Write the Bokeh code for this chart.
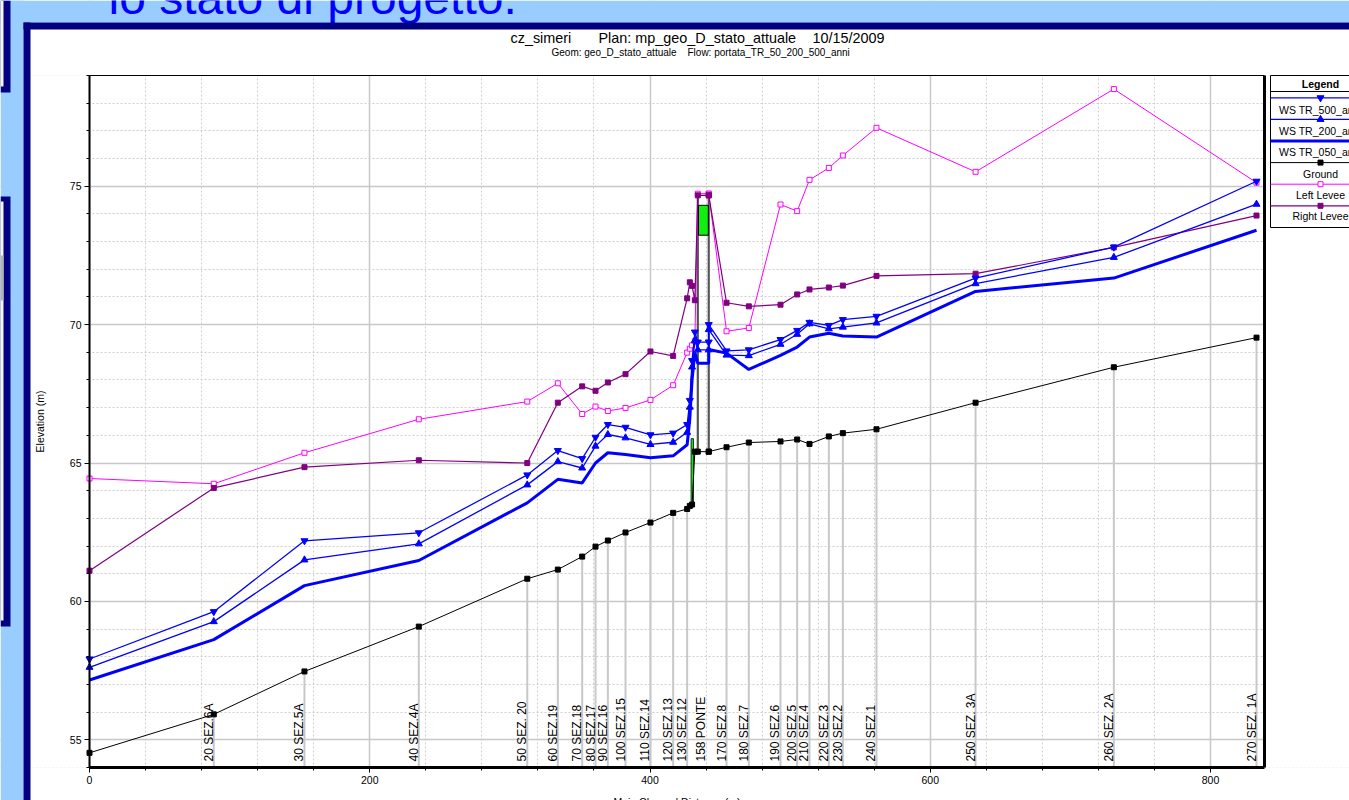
import numpy as np
from bokeh.plotting import figure
from bokeh.models import (Range1d, LinearAxis, SingleIntervalTicker, FixedTicker, Grid)
from bokeh.core.properties import value
from bokeh.embed import file_html
from bokeh.resources import INLINE

# ---------------- data ----------------
stations = ["10", "20 SEZ.6A", "30 SEZ.5A", "40 SEZ.4A", "50 SEZ. 20", "60 SEZ.19",
            "70 SEZ.18", "80 SEZ.17", "90 SEZ.16", "100 SEZ.15", "110 SEZ.14",
            "120 SEZ.13", "130 SEZ.12", "140", "145", "150", "158 BD", "158 BU",
            "158 BU", "170 SEZ.8", "180 SEZ.7", "190 SEZ.6", "200 SEZ.5",
            "210 SEZ.4", "220 SEZ.3", "230 SEZ.2", "240 SEZ.1", "250 SEZ. 3A",
            "260 SEZ. 2A", "270 SEZ. 1A"]
dist = [0.0, 88.7, 153.4, 235.0, 312.4, 334.2, 351.6, 361.1, 369.9, 382.5, 400.3,
        416.5, 426.5, 428.4, 430.0, 432.0, 434.1, 441.9, 441.9, 454.6, 470.5,
        493.1, 505.0, 513.8, 527.6, 537.6, 561.6, 632.3, 731.0, 832.8]
ground = [54.53, 55.92, 57.47, 59.09, 60.82, 61.15, 61.62, 61.98, 62.20, 62.49, 62.85,
          63.20, 63.34, 63.45, 63.50, 65.41, 65.41, 65.41, 65.41, 65.57, 65.74,
          65.78, 65.85, 65.69, 65.96, 66.08, 66.22, 67.18, 68.46, 69.53]
left_levee = [64.44, 64.25, 65.37, 66.58, 67.22, 67.88, 66.77, 67.04, 66.88, 66.99, 67.28,
              67.81, 68.99, 69.13, 69.25, 69.40, 74.73, 74.73, 74.73, 69.76, 69.88,
              74.34, 74.10, 75.23, 75.66, 76.11, 77.11, 75.52, 78.51, 75.13]
right_levee = [61.11, 64.10, 64.85, 65.10, 65.00, 67.18, 67.77, 67.61, 67.91, 68.21, 69.03,
               68.87, 70.95, 71.53, 71.40, 70.88, 74.67, 74.67, 74.67, 70.79, 70.66,
               70.72, 71.09, 71.27, 71.34, 71.41, 71.76, 71.84, 72.79, 73.94]
ws_500 = [57.92, 59.63, 62.19, 62.48, 64.57, 65.45, 65.16, 65.93, 66.39, 66.29, 66.02,
          66.08, 66.39, 67.26, 68.70, 69.73, 69.37, 69.37, 70.00, 69.05, 69.09,
          69.46, 69.79, 70.08, 69.97, 70.18, 70.30, 71.68, 72.80, 75.18]
ws_200 = [57.62, 59.27, 61.50, 62.08, 64.21, 65.05, 64.82, 65.61, 66.03, 65.91, 65.67,
          65.75, 66.11, 67.02, 68.47, 69.43, 69.09, 69.09, 69.82, 68.90, 68.88,
          69.29, 69.65, 70.03, 69.85, 69.91, 70.06, 71.48, 72.43, 74.35]
ws_050 = [57.16, 58.62, 60.57, 61.48, 63.56, 64.41, 64.28, 65.00, 65.37, 65.31, 65.19,
          65.26, 65.66, 66.60, 68.00, 69.00, 68.60, 68.60, 69.10, 68.97, 68.38,
          68.89, 69.19, 69.55, 69.69, 69.59, 69.55, 71.20, 71.68, 73.41]

section_labels = ["20 SEZ.6A", "30 SEZ.5A", "40 SEZ.4A", "50 SEZ. 20", "60 SEZ.19",
                  "70 SEZ.18", "80 SEZ.17", "90 SEZ.16", "100 SEZ.15", "110 SEZ.14",
                  "120 SEZ.13", "130 SEZ.12", "158 PONTE", "170 SEZ.8", "180 SEZ.7",
                  "190 SEZ.6", "200 SEZ.5", "210 SEZ.4", "220 SEZ.3", "230 SEZ.2",
                  "240 SEZ.1", "250 SEZ. 3A", "260 SEZ. 2A", "270 SEZ. 1A"]
label_dist = [88.7, 153.4, 235.0, 312.4, 334.2, 351.6, 361.1, 369.9, 382.5, 400.3,
              416.5, 426.5, 439.8, 454.6, 470.5, 493.1, 505.0, 513.8, 527.6, 537.6,
              561.6, 632.3, 731.0, 832.8]

# bridge (158 PONTE)
deck_left, deck_right = [434.6], [441.6]
deck_low, deck_high = [73.23], [74.31]
face_dist = [434.1, 441.9]
face_top = [74.70, 74.70]
sill_left, sill_right = [429.3], [431.0]
sill_low, sill_high = [63.48], [65.88]

legend_names = ["WS TR_500_anni", "WS TR_200_anni", "WS TR_050_anni",
                "Ground", "Left Levee", "Right Levee"]

# ---------------- layout constants (page pixels) ----------------
W, H = 1349, 800
FL, FT, FR, FB = 89, 75, 1264, 767       # plot frame of the chart
X0, X1 = 0.0, 838.5
Y0, Y1 = 54.0, 79.0
FONT = "Liberation Sans"
LIGHT = "#99ccff"
NAVY = "#000080"
BLUE = "#0000ff"
PINK = "#ff00ff"
PURPLE = "#800080"

kx = (FR - FL) / (X1 - X0)
ky = (FB - FT) / (Y1 - Y0)

p = figure(width=W, height=H, output_backend="svg", toolbar_location=None, title=None,
           x_range=Range1d(0, W), y_range=Range1d(H, 0),
           x_axis_type=None, y_axis_type=None,
           min_border=0, min_border_left=0, min_border_right=0,
           min_border_top=0, min_border_bottom=0)
p.extra_x_ranges = {"dist": Range1d(X0 - FL / kx, X0 + (W - FL) / kx)}
p.extra_y_ranges = {"elev": Range1d(Y0 - (H - FB) / ky, Y1 + FT / ky)}
p.border_fill_color = "white"
p.background_fill_color = "white"
p.outline_line_color = None

R = dict(x_range_name="dist", y_range_name="elev")

xticker = SingleIntervalTicker(interval=200, num_minor_ticks=5)
yticker = SingleIntervalTicker(interval=5, num_minor_ticks=5)

for dim, tk in ((0, xticker), (1, yticker)):
    p.add_layout(Grid(dimension=dim, ticker=tk, grid_line_color="#c8c8c8",
                      grid_line_width=1.5, minor_grid_line_color="#cfcfcf",
                      minor_grid_line_dash="2 2", minor_grid_line_width=1, **R))

# ---------------- slide / chart surroundings (page pixels) ----------------
# white bands around the plot area (hide grid outside it)
p.quad(left=[0, 0, 0, FR], right=[W, W, FL, W], top=[0, FB, FT, FT],
       bottom=[FT, H, FB, FB], fill_color="white", line_color=None)
# slide background and other slide boxes
p.quad(left=[0, 0], right=[W, 23], top=[0, 0], bottom=[22, H],
       fill_color=LIGHT, line_color=None)
p.quad(left=[0, 0], right=[10, 10], top=[0, 196], bottom=[92, 626],
       fill_color=NAVY, line_color=None)
p.quad(left=[0, 0], right=[3, 3], top=[0, 201], bottom=[86, 620],
       fill_color="#f4f4f4", line_color=None)
p.quad(left=[0], right=[3], top=[255], bottom=[300], fill_color="#b4b4b4", line_color=None)
p.text(x=[108], y=[-3], text=["lo stato di progetto."], text_font=value(FONT),
       text_font_size="48px", text_color=BLUE, text_align="left",
       text_baseline="middle")
p.quad(left=[23, 23], right=[W, 30], top=[22, 22], bottom=[29, H],
       fill_color=NAVY, line_color=None)

# chart titles
p.text(x=[510, 598, 812], y=[37, 37, 37],
       text=["cz_simeri", "Plan: mp_geo_D_stato_attuale", "10/15/2009"],
       text_font=value(FONT), text_font_size="14.4px", text_color="black",
       text_align="left", text_baseline="middle")
p.text(x=[551, 687], y=[52, 52],
       text=["Geom: geo_D_stato_attuale", "Flow: portata_TR_50_200_500_anni"],
       text_font=value(FONT), text_font_size="10px", text_color="black",
       text_align="left", text_baseline="middle")

# legend
LX0, LX1, LCX = 1270, 1365, 1320
line_y = [97.3, 118.9, 140.5, 162.1, 183.7, 205.3]
text_y = [109.3, 130.6, 151.9, 173.2, 194.5, 215.8]
line_col = [BLUE, BLUE, BLUE, "black", PINK, PURPLE]
line_w = [1.3, 1.3, 3, 1, 1, 1.2]
p.quad(left=[LX0], right=[LX1], top=[75], bottom=[227], fill_color="white",
       line_color="black", line_width=1)
p.segment(x0=[LX0], x1=[LX1], y0=[91], y1=[91], line_color="black", line_width=1)
p.text(x=[LCX], y=[83], text=["Legend"], text_font=value(FONT), text_font_size="10.5px",
       text_font_style="bold", text_align="center", text_baseline="middle",
       text_color="black")
p.segment(x0=[LX0] * 6, x1=[LX1] * 6, y0=line_y, y1=line_y, line_color=line_col,
          line_width=line_w)
p.text(x=[LCX] * 6, y=text_y, text=legend_names, text_font=value(FONT),
       text_font_size="10.5px", text_align="center", text_baseline="middle",
       text_color="black")
p.scatter(x=[LCX], y=[line_y[0]], marker="inverted_triangle", size=7,
          fill_color=BLUE, line_color=BLUE)
p.scatter(x=[LCX], y=[line_y[1]], marker="triangle", size=7,
          fill_color=BLUE, line_color=BLUE)
p.scatter(x=[LCX] * 3, y=line_y[3:], marker="square", size=5,
          fill_color=["black", "white", PURPLE], line_color=["black", PINK, PURPLE])

# ---------------- section lines, labels ----------------
draw_dist = [d for d, n in zip(label_dist, section_labels) if "PONTE" not in n]
draw_top = list(np.interp(draw_dist, dist, ground))
p.segment(x0=draw_dist, y0=[Y0] * len(draw_dist), x1=draw_dist, y1=draw_top,
          line_color="#c8c8c8", line_width=2, **R)
p.text(x=label_dist, y=[Y0] * len(label_dist), text=section_labels, angle=np.pi / 2,
       text_align="left", text_baseline="middle", text_font=value(FONT),
       text_font_size="12px", text_color="black", x_offset=-5, y_offset=-6, **R)

# ---------------- bridge ----------------
face_bottom = list(np.interp(face_dist, dist, ground))
p.segment(x0=face_dist, y0=face_bottom, x1=face_dist, y1=face_top,
          line_color="#555555", line_width=2.2, **R)
p.quad(left=deck_left, right=deck_right, bottom=deck_low, top=deck_high,
       fill_color="#11ee11", line_color="black", line_width=1, **R)
p.quad(left=sill_left, right=sill_right, bottom=sill_low, top=sill_high,
       fill_color="#11ee11", line_color="black", line_width=0.8, **R)

# ---------------- series ----------------
p.line(dist, ground, line_color="black", line_width=1, **R)
p.scatter(dist, ground, marker="square", size=5, fill_color="black",
          line_color="black", **R)
p.line(dist, left_levee, line_color=PINK, line_width=1, **R)
p.scatter(dist, left_levee, marker="square", size=5, fill_color="white",
          line_color=PINK, **R)
p.line(dist, right_levee, line_color=PURPLE, line_width=1.2, **R)
p.scatter(dist, right_levee, marker="square", size=5, fill_color=PURPLE,
          line_color=PURPLE, **R)
p.line(dist, ws_500, line_color=BLUE, line_width=1.3, **R)
p.scatter(dist, ws_500, marker="inverted_triangle", size=7, fill_color=BLUE,
          line_color=BLUE, **R)
p.line(dist, ws_200, line_color=BLUE, line_width=1.3, **R)
p.scatter(dist, ws_200, marker="triangle", size=7, fill_color=BLUE,
          line_color=BLUE, **R)
p.line(dist, ws_050, line_color=BLUE, line_width=3, **R)

# ---------------- axes (fixed at the plot-area edges) ----------------
common = dict(axis_line_color="black", major_tick_line_color="black",
              minor_tick_line_color="black", major_tick_in=0, major_tick_out=5,
              minor_tick_in=0, minor_tick_out=3, major_label_text_font=FONT,
              major_label_text_font_size="10.5px", major_label_text_color="black",
              major_label_standoff=3, axis_label_text_font=FONT,
              axis_label_text_font_size="10.5px", axis_label_text_font_style="normal",
              axis_label_text_color="black")
xax = LinearAxis(ticker=xticker, fixed_location=Y0, bounds=(X0, X1),
                 axis_line_width=3, axis_label="Main Channel Distance (m)",
                 axis_label_standoff=9, **common, **R)
yax = LinearAxis(ticker=yticker, fixed_location=X0, bounds=(Y0, Y1),
                 axis_line_width=2, axis_label="Elevation (m)",
                 axis_label_standoff=21, **common, **R)
p.add_layout(xax, "below")
p.add_layout(yax, "left")
p.add_layout(LinearAxis(ticker=FixedTicker(ticks=[]), fixed_location=X1,
                        bounds=(Y0, Y1), axis_line_width=3, axis_line_color="black",
                        **R), "right")
p.add_layout(LinearAxis(ticker=FixedTicker(ticks=[]), fixed_location=Y1,
                        bounds=(X0, X1), axis_line_width=1, axis_line_color="black",
                        **R), "above")

open("out.html", "w").write(file_html(p, INLINE))
